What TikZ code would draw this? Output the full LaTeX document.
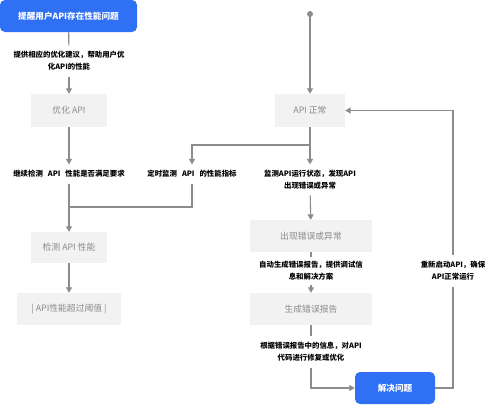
\documentclass[tikz,border=0pt]{standalone}
\usepackage{fontspec}
\setmainfont{Noto Sans CJK SC}
\usetikzlibrary{arrows.meta}
\definecolor{bluebox}{HTML}{3070F5}
\definecolor{grayfill}{HTML}{F2F2F2}
\definecolor{graytext}{HTML}{8A8A8A}
\definecolor{lineg}{HTML}{8C8C8C}
\newcommand{\wsp}{\hspace{5pt}}
\tikzset{
  bluenode/.style={fill=bluebox, text=white, rounded corners=5pt, font=\fontsize{8.6}{10}\selectfont\bfseries, inner sep=0pt},
  graynode/.style={fill=grayfill, text=graytext, font=\fontsize{8.8}{10}\selectfont, inner sep=0pt},
  lbl/.style={font=\fontsize{7.4}{12}\selectfont\bfseries, align=center, inner sep=0pt, outer sep=6pt},
  conn/.style={draw=lineg, line width=1.1pt},
  arr/.style={conn, -{Triangle[width=6pt,length=5.5pt]}},
}
\begin{document}
\begin{tikzpicture}[x=1pt,y=-1pt]
\path[use as bounding box, fill=white] (0,0) rectangle (500,405);
% nodes
\node[bluenode, minimum width=137, minimum height=32] (top) at (68.5,16) {提醒用户API存在性能问题};
\node[graynode, minimum width=76, minimum height=33] (opt) at (69,110.5) {优化 API};
\node[graynode, minimum width=76, minimum height=31] (chk) at (69,247.5) {检测 API 性能};
\node[graynode, minimum width=104, minimum height=32] (thr) at (69,309) {| API性能超过阈值 |};
\node[graynode, minimum width=70, minimum height=33] (ok) at (310,110.5) {API 正常};
\node[graynode, minimum width=122, minimum height=32] (err) at (311,236) {出现错误或异常};
\node[graynode, minimum width=122, minimum height=32] (rep) at (311,309) {生成错误报告};
\node[bluenode, minimum width=80, minimum height=32] (fix) at (395,388) {解决问题};
\fill[lineg] (310,14) circle (3pt);
\coordinate (start) at (310,14);
% labels
\node[lbl] (l1) at (69,61) {提供相应的优化建议，帮助用户优\\化API的性能};
\node[lbl] (l2) at (69,174) {继续检测\wsp API\wsp 性能是否满足要求};
\node[lbl] (l3) at (192,174) {定时监测\wsp API\wsp 的性能指标};
\node[lbl] (l4) at (310,180) {监测API运行状态，发现API\\出现错误或异常};
\node[lbl, outer sep=4pt] (l5) at (311,271) {自动生成错误报告，提供调试信\\息和解决方案};
\node[lbl] (l6) at (311,352) {根据错误报告中的信息，对API\\代码进行修复或优化};
\node[lbl] (l7) at (453,271) {重新启动API，确保\\API正常运行};
% coordinates
\coordinate (j1) at (310,145);
\coordinate (j2) at (69,207);
% connectors
\draw[conn] (top) -- (l1);
\draw[arr] (l1) -- (opt);
\draw[arr] (opt) -- (l2);
\draw[arr] (l2) -- (chk);
\draw[arr] (chk) -- (thr);
\draw[arr] (start) -- (ok);
\draw[arr] (ok) -- (l4);
\draw[arr] (j1) -| (l3);
\draw[conn] (l3) |- (j2);
\draw[arr] (l4) -- (err);
\draw[conn] (err) -- (l5);
\draw[arr] (l5) -- (rep);
\draw[conn] (rep) -- (l6);
\draw[arr] (l6) |- (fix);
\draw[conn] (fix) -| (l7);
\draw[arr] (l7) |- (ok);
\end{tikzpicture}
\end{document}
